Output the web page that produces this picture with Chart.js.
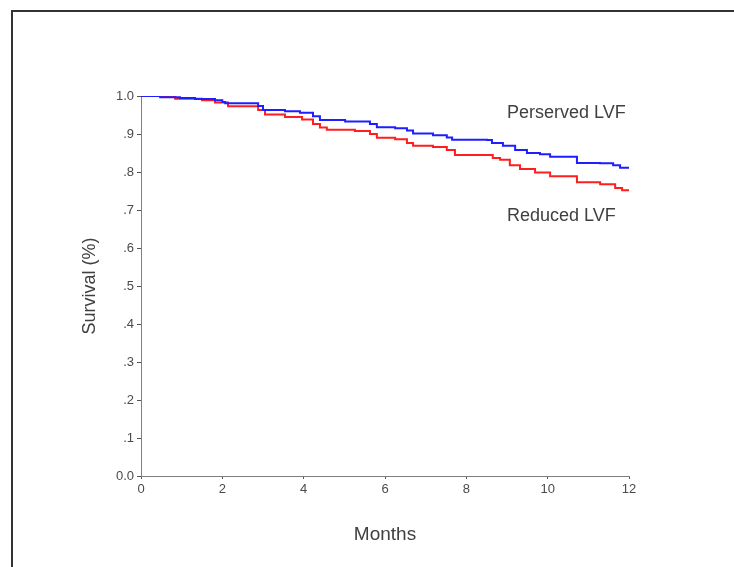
<!DOCTYPE html>
<html>
<head>
<meta charset="utf-8">
<script src="https://cdn.jsdelivr.net/npm/chart.js@4"></script>
<style>
  html, body { margin: 0; padding: 0; background: #fff; }
  #frame { position: absolute; left: 11px; top: 10px; width: 740px; height: 570px;
           border-top: 2px solid #333; border-left: 2px solid #333; }
  #wrap { position: absolute; left: 0; top: 0; width: 734px; height: 567px; }
</style>
</head>
<body>
<div id="frame"></div>
<div id="wrap"><canvas id="chart_survival"></canvas></div>
<script>
// months at which survival steps down, and the survival after the step
const preservedMonths = [0, 0.47, 0.96, 1.33, 1.82, 2.0, 2.07, 2.88, 3.0, 3.54, 3.91, 4.23, 4.40, 5.02, 5.63, 5.80, 6.25, 6.54, 6.69, 7.18, 7.52, 7.65, 8.51, 8.63, 8.90, 9.2, 9.49, 9.81, 10.06, 10.72, 11.29, 11.61, 11.78, 12];
const preservedSurv = [1.0, 0.997, 0.995, 0.992, 0.989, 0.984, 0.981, 0.974, 0.963, 0.960, 0.956, 0.947, 0.937, 0.933, 0.926, 0.918, 0.915, 0.909, 0.901, 0.897, 0.891, 0.885, 0.884, 0.876, 0.869, 0.858, 0.850, 0.847, 0.840, 0.824, 0.823, 0.818, 0.811, 0.811];

const reducedMonths = [0, 0.84, 1.50, 1.82, 2.14, 2.88, 3.05, 3.54, 3.96, 4.23, 4.40, 4.57, 5.26, 5.63, 5.80, 6.25, 6.54, 6.69, 7.18, 7.52, 7.72, 8.51, 8.65, 8.83, 9.07, 9.32, 9.69, 10.06, 10.72, 11.29, 11.66, 11.83, 12];
const reducedSurv = [1.0, 0.993, 0.989, 0.983, 0.973, 0.963, 0.951, 0.945, 0.938, 0.926, 0.917, 0.911, 0.908, 0.900, 0.890, 0.886, 0.876, 0.869, 0.866, 0.858, 0.845, 0.845, 0.837, 0.832, 0.818, 0.808, 0.799, 0.789, 0.773, 0.768, 0.758, 0.752, 0.752];

const xTicks = [0, 2, 4, 6, 8, 10, 12];
const yTickLabels = ['0.0', '.1', '.2', '.3', '.4', '.5', '.6', '.7', '.8', '.9', '1.0'];

// curve labels: [text, month, survival] where text starts
const curveLabels = [
  ['Perserved LVF', 9.0, 0.955],
  ['Reduced LVF', 9.0, 0.684]
];

const toPoints = (xs, ys) => xs.map((x, i) => ({ x: x, y: ys[i] }));

const labelPlugin = {
  id: 'curveLabels',
  afterDatasetsDraw(chart) {
    const ctx = chart.ctx;
    const sx = chart.scales.x, sy = chart.scales.y;
    ctx.save();
    ctx.font = '18px "Liberation Sans", Arial, sans-serif';
    ctx.fillStyle = '#404040';
    ctx.textAlign = 'left';
    ctx.textBaseline = 'middle';
    curveLabels.forEach(l => {
      ctx.fillText(l[0], sx.getPixelForValue(l[1]), sy.getPixelForValue(l[2]));
    });
    ctx.restore();
  }
};

const Chart_survival = () => {
  new Chart(document.getElementById('chart_survival'), {
    type: 'line',
    data: {
      datasets: [{
        label: 'Perserved LVF',
        data: toPoints(preservedMonths, preservedSurv),
        borderColor: 'rgb(30, 30, 255)',
        borderWidth: 2,
        pointRadius: 0,
        stepped: 'before',
        fill: false
      }, {
        label: 'Reduced LVF',
        data: toPoints(reducedMonths, reducedSurv),
        borderColor: 'rgb(255, 30, 30)',
        borderWidth: 2,
        pointRadius: 0,
        stepped: 'before',
        fill: false
      }]
    },
    options: {
      responsive: false,
      animation: false,
      layout: { padding: { left: 79, right: 105, top: 96, bottom: 11 } },
      plugins: { legend: { display: false }, tooltip: { enabled: false } },
      scales: {
        x: {
          type: 'linear',
          min: 0,
          max: 12,
          afterBuildTicks: s => { s.ticks = xTicks.map(v => ({ value: v })); },
          afterFit: s => { s.height = 80; },
          grid: { drawOnChartArea: false, tickLength: 3, color: '#555' },
          border: { display: true, color: '#808080', width: 1 },
          ticks: { padding: 3, color: '#4a4a4a', maxRotation: 0,
                   font: { size: 13, family: '"Liberation Sans", Arial, sans-serif' } },
          title: { display: true, text: 'Months', color: '#404040', padding: { top: 0, bottom: 10 },
                   font: { size: 19, family: '"Liberation Sans", Arial, sans-serif' } }
        },
        y: {
          min: 0,
          max: 1,
          afterBuildTicks: s => { s.ticks = yTickLabels.map((t, i) => ({ value: i / 10 })); },
          afterFit: s => { s.width = 62; },
          grid: { drawOnChartArea: false, tickLength: 4, color: '#555' },
          border: { display: true, color: '#808080', width: 1 },
          ticks: {
            padding: 3, color: '#4a4a4a',
            font: { size: 13, family: '"Liberation Sans", Arial, sans-serif' },
            callback: (v) => yTickLabels[Math.round(v * 10)]
          },
          title: { display: true, text: 'Survival (%)', color: '#404040', padding: 0,
                   font: { size: 18, family: '"Liberation Sans", Arial, sans-serif' } }
        }
      }
    },
    plugins: [labelPlugin]
  });
};

const cv = document.getElementById('chart_survival');
cv.width = 734;
cv.height = 567;
Chart_survival();
</script>
</body>
</html>
